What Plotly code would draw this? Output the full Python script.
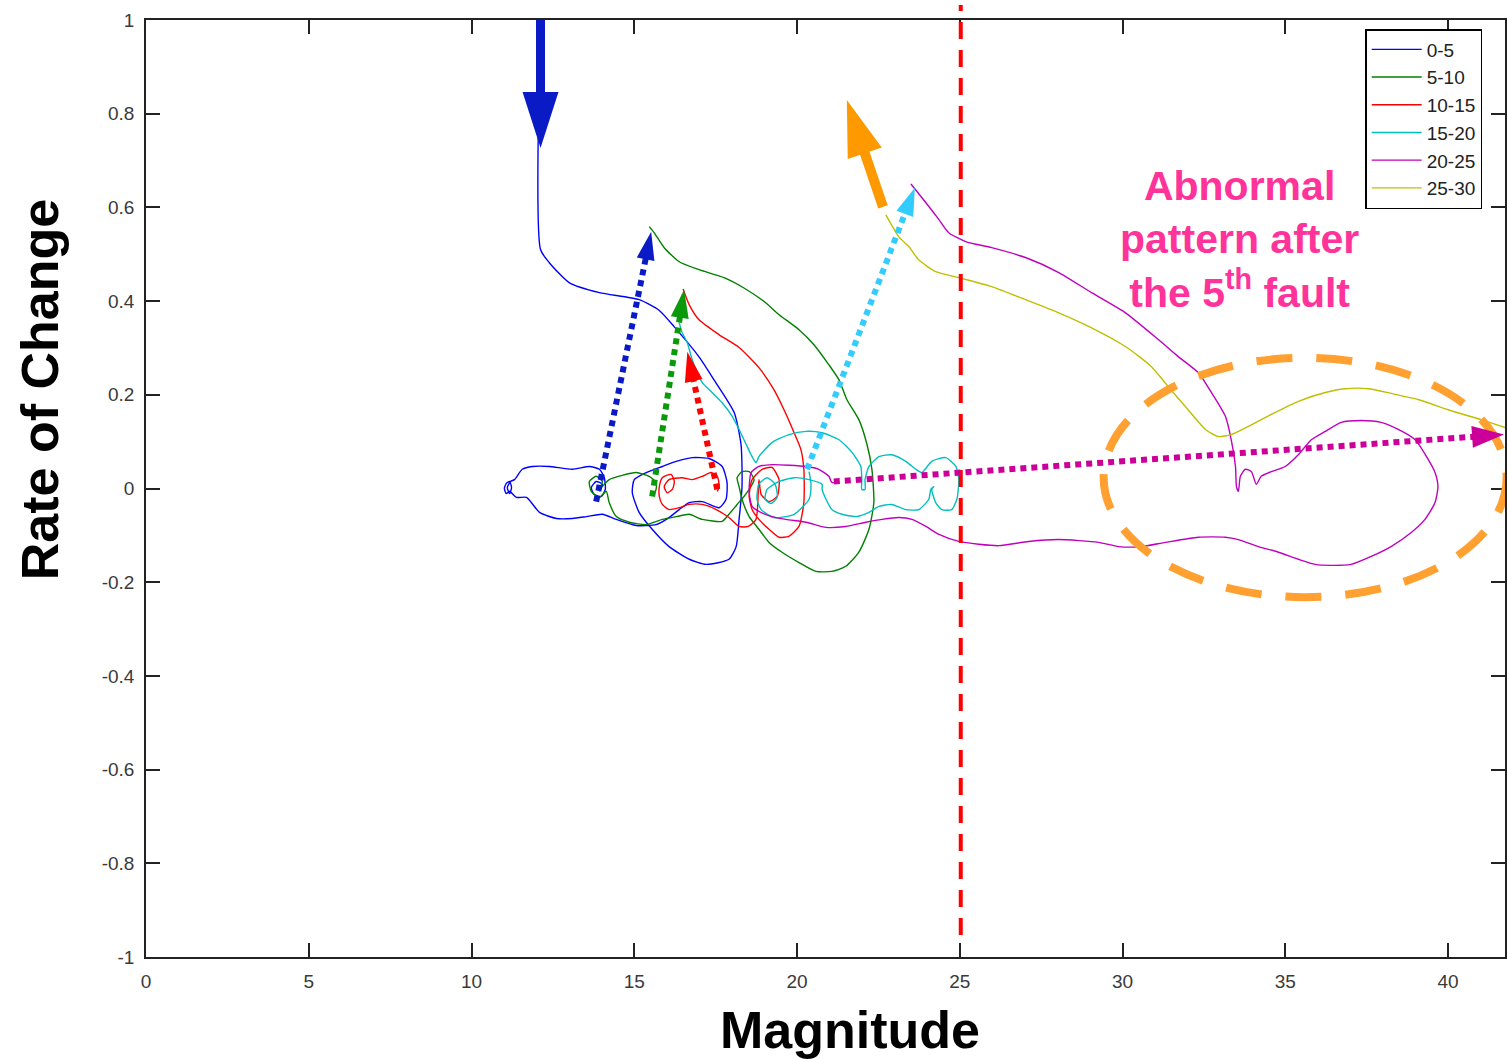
import plotly.graph_objects as go

# ---------------- data ----------------
series_names = ["0-5", "5-10", "10-15", "15-20", "20-25", "25-30"]
series_colors = ["#0000ff", "#008000", "#ff0000", "#00bfbf", "#bf00bf", "#bfbf00"]

x_0_5 = [12.12, 12.12, 12.39, 13.01, 13.93, 15.15, 15.77, 16.23, 16.99, 17.45, 18.07, 18.28, 18.31, 18.22,
         18.13, 17.91, 17.21, 16.69, 16.07, 15.55, 15.15, 14.94, 15.00, 15.37, 15.86, 16.29, 16.78, 17.30,
         17.70, 17.85, 17.82, 17.61, 17.09, 16.69, 16.38, 16.07, 15.67, 15.06, 14.45, 14.02, 13.53, 13.10,
         12.61, 12.09, 11.69, 11.38, 11.17, 11.07, 11.01, 11.07, 11.17, 11.23, 11.17, 11.10, 11.20, 11.32,
         11.56, 11.87, 12.39, 13.10, 13.62, 13.93, 14.08, 14.11, 13.99, 13.77, 13.68, 13.83, 14.02, 13.93]
y_0_5 = [1.0, 0.510, 0.482, 0.439, 0.418, 0.403, 0.380, 0.345, 0.281, 0.232, 0.162, 0.094, 0.004, -0.066,
         -0.124, -0.151, -0.162, -0.151, -0.124, -0.087, -0.051, -0.009, 0.019, 0.034, 0.047, 0.058, 0.066, 0.064,
         0.047, 0.013, -0.023, -0.041, -0.028, -0.030, -0.045, -0.062, -0.077, -0.079, -0.066, -0.055, -0.060, -0.064,
         -0.064, -0.051, -0.019, -0.019, -0.006, -0.011, 0.0, 0.011, 0.015, 0.002, -0.011, 0.002, 0.015, 0.019,
         0.041, 0.047, 0.047, 0.041, 0.047, 0.041, 0.023, -0.002, -0.017, -0.013, 0.002, 0.015, 0.009, -0.006]

x_5_10 = [15.46, 15.61, 15.92, 16.38, 16.99, 17.76, 18.37, 18.99, 19.45, 20.06, 20.52, 20.98, 21.29, 21.53,
          21.90, 22.15, 22.30, 22.36, 22.21, 21.90, 21.50, 21.07, 20.58, 20.06, 19.54, 19.14, 18.83, 18.53,
          18.31, 18.22, 18.16, 18.31, 18.53, 18.68, 18.53, 18.37, 18.16, 17.91, 17.70, 17.09, 16.69, 16.29,
          15.86, 15.37, 14.85, 14.45, 14.23, 14.14, 13.93, 13.68, 13.62, 13.83, 14.02, 13.93, 14.08, 14.23,
          14.63, 15.06, 15.46, 15.67, 15.67, 15.61]
y_5_10 = [0.559, 0.546, 0.514, 0.484, 0.467, 0.450, 0.428, 0.399, 0.371, 0.339, 0.307, 0.264, 0.232, 0.190,
          0.147, 0.094, 0.041, -0.030, -0.087, -0.136, -0.166, -0.177, -0.177, -0.158, -0.136, -0.115, -0.087, -0.060,
          -0.023, 0.004, 0.023, 0.036, 0.036, 0.019, -0.002, -0.017, -0.034, -0.055, -0.070, -0.066, -0.055, -0.060,
          -0.066, -0.077, -0.072, -0.060, -0.030, -0.006, -0.019, -0.006, 0.015, 0.026, 0.015, -0.002, 0.009, 0.019,
          0.028, 0.034, 0.026, 0.013, -0.002, -0.013]

x_10_15 = [16.50, 16.69, 16.99, 17.61, 18.22, 18.83, 19.29, 19.60, 19.91, 20.12, 20.21, 20.21, 20.06, 19.75,
           19.45, 19.14, 18.83, 18.62, 18.53, 18.62, 18.93, 19.23, 19.45, 19.39, 19.14, 18.90, 18.83, 18.74,
           18.50, 18.22, 17.91, 17.52, 17.09, 16.69, 16.38, 16.07, 15.86, 15.77, 15.77, 15.86, 16.13, 16.23,
           16.17, 16.01, 15.92, 16.07, 16.47, 16.78, 17.09, 17.36, 17.55, 17.61, 17.55]
y_10_15 = [0.426, 0.392, 0.360, 0.328, 0.301, 0.258, 0.211, 0.168, 0.119, 0.083, 0.041, -0.030, -0.081, -0.102,
           -0.104, -0.087, -0.066, -0.045, -0.017, 0.019, 0.041, 0.045, 0.019, -0.017, -0.028, -0.013, 0.019, -0.066,
           -0.081, -0.081, -0.062, -0.045, -0.034, -0.034, -0.041, -0.045, -0.034, -0.017, 0.004, 0.023, 0.030, 0.015,
           -0.002, -0.009, 0.004, 0.019, 0.023, 0.019, 0.026, 0.034, 0.026, 0.004, -0.006]

x_15_20 = [16.38, 16.47, 16.63, 16.78, 17.09, 17.39, 17.70, 18.01, 18.22, 18.44, 18.59, 18.74, 18.83, 19.23,
           19.75, 20.28, 20.77, 21.29, 21.69, 21.96, 21.99, 21.99, 22.09, 22.09, 22.21, 22.52, 22.91, 23.34,
           23.65, 23.83, 24.14, 24.57, 24.88, 24.97, 24.91, 24.75, 24.45, 24.26, 24.14, 24.20, 24.11, 24.05,
           23.74, 23.34, 22.91, 22.52, 22.21, 21.81, 21.38, 21.07, 20.89, 20.77, 20.77, 20.37, 19.91, 19.45,
           19.08, 19.02, 19.20, 19.39, 19.33, 19.08, 18.83, 18.77, 18.90, 19.29, 19.91, 20.37, 20.43, 20.37]
y_15_20 = [0.354, 0.333, 0.311, 0.275, 0.226, 0.205, 0.183, 0.154, 0.126, 0.094, 0.072, 0.055, 0.068, 0.098,
           0.115, 0.122, 0.119, 0.104, 0.077, 0.047, 0.019, -0.002, -0.002, 0.019, 0.047, 0.068, 0.072, 0.058,
           0.041, 0.034, 0.058, 0.066, 0.047, 0.019, -0.023, -0.045, -0.045, -0.030, -0.002, 0.004, -0.002, -0.023,
           -0.045, -0.045, -0.034, -0.038, -0.051, -0.060, -0.055, -0.045, -0.023, -0.002, 0.009, 0.019, 0.023, 0.015,
           -0.002, -0.023, -0.032, -0.019, 0.009, 0.023, 0.009, -0.023, -0.045, -0.062, -0.055, -0.023, 0.009, 0.036]

x_20_25 = [23.50, 23.96, 24.36, 24.66, 25.18, 25.98, 27.02, 28.04, 29.05, 30.09, 31.10, 31.72, 32.33, 32.73,
           33.16, 33.34, 33.47, 33.50, 33.56, 33.62, 33.77, 33.96, 34.11, 34.26, 34.57, 35.00, 35.40, 35.80,
           36.23, 36.72, 37.33, 37.94, 38.47, 38.99, 39.39, 39.60, 39.69, 39.60, 39.29, 38.87, 38.25, 37.64,
           37.02, 36.41, 35.92, 35.40, 34.79, 34.17, 33.56, 33.16, 32.33, 31.32, 30.58, 29.88, 29.26, 28.04,
           27.12, 26.20, 25.58, 24.97, 24.36, 23.96, 23.53, 23.13, 22.61, 22.12, 21.50, 20.89, 20.28, 19.66,
           19.23, 18.83, 18.62, 18.53, 18.59, 18.83, 19.23, 20.28, 20.67, 20.98, 21.07, 21.20]
y_20_25 = [0.650, 0.610, 0.574, 0.546, 0.527, 0.514, 0.493, 0.461, 0.418, 0.375, 0.318, 0.281, 0.247, 0.205,
           0.154, 0.104, 0.047, 0.004, -0.006, 0.026, 0.041, 0.036, 0.009, 0.026, 0.036, 0.047, 0.072, 0.104,
           0.122, 0.141, 0.145, 0.141, 0.126, 0.104, 0.062, 0.034, 0.004, -0.030, -0.066, -0.094, -0.124, -0.145,
           -0.162, -0.164, -0.162, -0.151, -0.136, -0.124, -0.109, -0.104, -0.104, -0.115, -0.124, -0.124, -0.115, -0.109,
           -0.113, -0.122, -0.119, -0.113, -0.098, -0.081, -0.066, -0.062, -0.066, -0.072, -0.081, -0.083, -0.072, -0.066,
           -0.060, -0.049, -0.038, -0.009, 0.034, 0.047, 0.051, 0.047, 0.041, 0.026, 0.013, 0.013]

x_25_30 = [22.73, 23.13, 23.44, 23.74, 24.26, 24.97, 25.98, 27.02, 28.04, 29.05, 30.09, 30.89, 31.41, 31.93,
           32.55, 32.94, 33.34, 33.96, 34.57, 35.40, 36.23, 36.84, 37.55, 38.25, 39.08, 40.00, 41.01, 41.75, 42.76]
y_25_30 = [0.584, 0.537, 0.516, 0.488, 0.463, 0.450, 0.431, 0.403, 0.375, 0.343, 0.303, 0.260, 0.217, 0.175,
           0.126, 0.111, 0.115, 0.136, 0.158, 0.186, 0.205, 0.213, 0.213, 0.203, 0.190, 0.168, 0.147, 0.130, 0.104]

series_x = [x_0_5, x_5_10, x_10_15, x_15_20, x_20_25, x_25_30]
series_y = [y_0_5, y_5_10, y_10_15, y_15_20, y_20_25, y_25_30]

x_ticks = [0, 5, 10, 15, 20, 25, 30, 35, 40]
y_ticks = [-1, -0.8, -0.6, -0.4, -0.2, 0, 0.2, 0.4, 0.6, 0.8, 1]
y_tick_labels = ["-1", "-0.8", "-0.6", "-0.4", "-0.2", "0", "0.2", "0.4", "0.6", "0.8", "1"]

x_range = [0, 41.75]
y_range = [-1, 1]
fault_line_x = 25.03

# annotation arrows: (tail x, tail y, tip x, tip y)
arrow_blue_solid = (12.12, 1.0, 12.12, 0.727)
arrow_orange = (22.64, 0.601, 21.53, 0.829)
arrow_blue_dot = (13.83, -0.028, 15.52, 0.548)
arrow_green_dot = (15.55, -0.017, 16.53, 0.424)
arrow_red_dot = (17.55, -0.002, 16.63, 0.292)
arrow_cyan_dot = (20.31, 0.041, 23.62, 0.642)
arrow_magenta_dot = (21.13, 0.015, 41.72, 0.115)

ellipse_box = (29.42, -0.232, 41.80, 0.279)
note_pos = (33.59, 0.531)

# ---------------- layout geometry ----------------
W, H = 1507, 1059
ML, MR, MT, MB = 146, 0, 20, 102
PW = W - ML - MR
PH = H - MT - MB
SX = PW / (x_range[1] - x_range[0])
SY = PH / (y_range[1] - y_range[0])

FONT = "Liberation Sans, Arial, Helvetica, sans-serif"

fig = go.Figure()
for name, col, xs, ys in zip(series_names, series_colors, series_x, series_y):
    fig.add_trace(go.Scatter(x=xs, y=ys, mode="lines", name=name,
                             line=dict(color=col, width=1.4, shape="spline", smoothing=0.6)))

shapes = []


def arrow(spec, color, width, dash, head_len, head_w):
    tx, ty, px_, py_ = spec
    dx = (px_ - tx) * SX
    dy = (py_ - ty) * SY
    L = (dx * dx + dy * dy) ** 0.5
    ux, uy = dx / L, dy / L
    bx = px_ - ux * head_len / SX
    by = py_ - uy * head_len / SY
    nx, ny = -uy, ux
    c1x = bx + nx * head_w / 2 / SX
    c1y = by + ny * head_w / 2 / SY
    c2x = bx - nx * head_w / 2 / SX
    c2y = by - ny * head_w / 2 / SY
    sx_end = px_ - ux * (head_len - 2) / SX
    sy_end = py_ - uy * (head_len - 2) / SY
    shapes.append(dict(type="line", xref="x", yref="y", x0=tx, y0=ty, x1=sx_end, y1=sy_end,
                       line=dict(color=color, width=width, dash=dash)))
    shapes.append(dict(type="path", xref="x", yref="y",
                       path=f"M{px_},{py_} L{c1x},{c1y} L{c2x},{c2y} Z",
                       fillcolor=color, line=dict(width=0)))


# red dashed fault line
shapes.append(dict(type="line", xref="x", yref="paper", x0=fault_line_x, x1=fault_line_x,
                   y0=0.0235, y1=1.016, line=dict(color="#ff0000", width=4, dash="17px,11px")))
# orange dashed ellipse
shapes.append(dict(type="circle", xref="x", yref="y", x0=ellipse_box[0], y0=ellipse_box[1],
                   x1=ellipse_box[2], y1=ellipse_box[3],
                   line=dict(color="#ffa030", width=8, dash="36px,24px")))

arrow(arrow_blue_solid, "#0a1bc6", 9, "solid", 56, 36)
arrow(arrow_orange, "#ff9900", 10, "solid", 56, 36)
arrow(arrow_blue_dot, "#0a1bc6", 6, "6px,5px", 28, 18)
arrow(arrow_green_dot, "#0a990a", 6, "6px,5px", 28, 18)
arrow(arrow_red_dot, "#ff0000", 6, "6px,5px", 30, 18)
arrow(arrow_cyan_dot, "#33ccff", 6, "6px,5px", 28, 18)
arrow(arrow_magenta_dot, "#cc0099", 6, "6px,5px", 32, 22)

annotations = [
    dict(text="Abnormal<br>pattern after<br>the 5<sup>th</sup> fault", x=note_pos[0], y=note_pos[1],
         xref="x", yref="y", showarrow=False, xanchor="center", yanchor="middle", align="center",
         font=dict(family=FONT, size=41, color="#ff3399", weight="bold")),
    dict(text="<b>Magnitude</b>", x=(851 - ML) / PW, y=-0.078, xref="paper", yref="paper",
         showarrow=False, xanchor="center", yanchor="middle",
         font=dict(family=FONT, size=52, color="#000000")),
    dict(text="<b>Rate of Change</b>", x=(40 - ML) / PW, y=0.605, xref="paper", yref="paper",
         showarrow=False, xanchor="center", yanchor="middle", textangle=-90,
         font=dict(family=FONT, size=52, color="#000000")),
]

axis_common = dict(showgrid=False, zeroline=False, showline=True, linecolor="#222222", linewidth=1.5,
                   mirror="ticks", ticks="inside", ticklen=14, tickwidth=1.5, tickcolor="#222222",
                   tickfont=dict(family=FONT, size=19, color="#3a3a3a"), ticklabelstandoff=6)

fig.update_layout(
    width=W, height=H,
    margin=dict(l=ML, r=MR, t=MT, b=MB, pad=0),
    paper_bgcolor="white", plot_bgcolor="white",
    xaxis=dict(range=x_range, tickmode="array", tickvals=x_ticks, **axis_common),
    yaxis=dict(range=y_range, tickmode="array", tickvals=y_ticks, ticktext=y_tick_labels, **axis_common),
    legend=dict(x=(1367 - ML) / PW, y=1 - (29 - MT) / PH, xanchor="left", yanchor="top",
                bgcolor="white", bordercolor="#000000", borderwidth=1.5, itemwidth=50,
                font=dict(family=FONT, size=19, color="#222222"), tracegroupgap=0),
    shapes=shapes,
    annotations=annotations,
    showlegend=True,
)

fig.write_html("out.html")
